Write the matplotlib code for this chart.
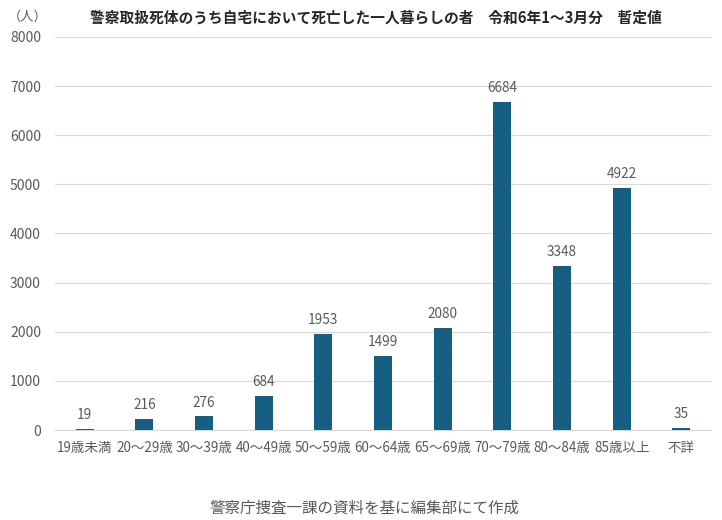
import matplotlib
matplotlib.use("Agg")
import matplotlib.pyplot as plt

plt.rcParams['font.family'] = ['Noto Sans CJK JP', 'DejaVu Sans']

categories = ["19歳未満", "20～29歳", "30～39歳", "40～49歳", "50～59歳", "60～64歳",
              "65～69歳", "70～79歳", "80～84歳", "85歳以上", "不詳"]
values = [19, 216, 276, 684, 1953, 1499, 2080, 6684, 3348, 4922, 35]
yticks = [0, 1000, 2000, 3000, 4000, 5000, 6000, 7000, 8000]

title = "警察取扱死体のうち自宅において死亡した一人暮らしの者　令和6年1～3月分　暫定値"
caption = "警察庁捜査一課の資料を基に編集部にて作成"

bar_color = "#175F82"
text_color = "#595959"

fig = plt.figure(figsize=(7.22, 5.2), dpi=100)
ax = fig.add_axes([0.076, 0.173, 0.909, 0.756])

x = range(len(categories))
bars = ax.bar(x, values, width=0.3, color=bar_color, zorder=3)
for xi, v in zip(x, values):
    ax.annotate(str(v), (xi, v), xytext=(0, 5), textcoords="offset points",
                ha="center", va="bottom", fontsize=9.8, color=text_color)

ax.set_xlim(-0.5, len(categories) - 0.5)
ax.set_ylim(0, 8000)
ax.set_yticks(yticks)
ax.set_yticklabels([str(t) for t in yticks], fontsize=10, color=text_color)
ax.set_xticks(list(x))
ax.set_xticklabels(categories, fontsize=9.7, color=text_color)
ax.tick_params(axis='x', length=0, pad=8)
ax.tick_params(axis='y', length=0, pad=10)
ax.grid(axis='y', color="#D9D9D9", linewidth=0.8, zorder=0)
for s in ["top", "right", "left"]:
    ax.spines[s].set_visible(False)
ax.spines["bottom"].set_color("#D9D9D9")

fig.text(0.52, 0.967, title, ha="center", va="center", fontsize=10.6, fontweight="bold", color="#262626")
fig.text(0.039, 0.967, "（人）", ha="center", va="center", fontsize=9.5, color=text_color)
fig.text(0.505, 0.023, caption, ha="center", va="center", fontsize=11.2, color=text_color)

fig.savefig("out.png", dpi=100)
